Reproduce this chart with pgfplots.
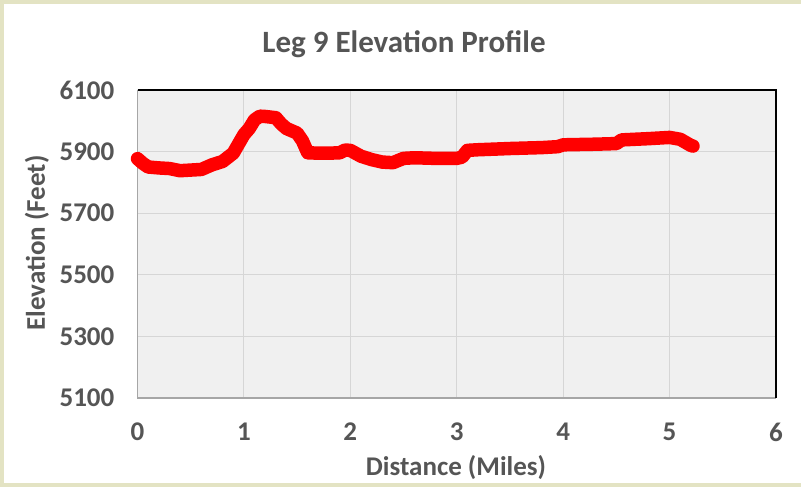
\documentclass[border=0pt]{standalone}
\usepackage{pgfplots}
\pgfplotsset{compat=1.18}
\usepackage{fontspec}
\setmainfont{Carlito}
\definecolor{beige}{HTML}{E3E3C3}
\definecolor{txtgray}{HTML}{555555}
\definecolor{plotbg}{HTML}{F0F0F0}
\definecolor{gridc}{HTML}{D6D6D6}
\begin{document}
\begin{tikzpicture}[x=1pt,y=1pt]
\fill[beige] (0,0) rectangle (801,487);
\fill[white] (4,4) rectangle (801,483);
\begin{axis}[
  at={(137.5pt,89pt)}, anchor=south west,
  scale only axis, width=638.5pt, height=308pt,
  xmin=0, xmax=6, ymin=5100, ymax=6100,
  xtick={0,1,2,3,4,5,6}, ytick={5100,5300,5500,5700,5900,6100},
  grid=major, major grid style={gridc, line width=1pt},
  axis background/.style={fill=plotbg},
  axis line style={draw=none},
  major tick length=0pt,
  /pgf/number format/assume math mode=true,
  /pgf/number format/1000 sep={},
  ticklabel style={font=\fontsize{27}{32}\selectfont\bfseries, text=txtgray, inner sep=0pt},
  yticklabel style={xshift=-23pt},
  xticklabel style={yshift=-25pt},
  clip=false,
]
\draw[gray!70, line width=1.2pt] (rel axis cs:0,1) -- (rel axis cs:0,0) -- (rel axis cs:1,0);
\draw[black, line width=1.5pt] (rel axis cs:0,1) -- (rel axis cs:1,1) -- (rel axis cs:1,0);
\addplot[red, line width=13.5pt, line cap=round, line join=round] coordinates {
(0,5877) (0.05,5862) (0.1,5850) (0.2,5847) (0.3,5845) (0.4,5838) (0.5,5840)
(0.6,5842) (0.7,5857) (0.8,5868) (0.9,5895) (1.0,5955) (1.05,5975) (1.1,6003)
(1.15,6015) (1.2,6014) (1.3,6010) (1.35,5990) (1.4,5975) (1.5,5960) (1.55,5935)
(1.6,5896) (1.7,5895) (1.8,5895) (1.9,5896) (1.95,5905) (2.0,5904) (2.1,5885)
(2.2,5874) (2.3,5866) (2.4,5864) (2.5,5878) (2.6,5880) (2.8,5878) (3.0,5878)
(3.05,5882) (3.1,5904) (3.2,5906) (3.5,5910) (3.8,5913) (3.95,5916) (4.0,5922)
(4.3,5924) (4.5,5926) (4.55,5938) (4.8,5942) (5.0,5946) (5.1,5940) (5.2,5920) (5.22,5918)
};
\end{axis}
\node[text=txtgray, font=\fontsize{31}{36}\selectfont\bfseries] at (404,443) {Leg 9 Elevation Profile};
\node[text=txtgray, font=\fontsize{27}{32}\selectfont\bfseries] at (456,19) {Distance (Miles)};
\node[text=txtgray, font=\fontsize{27}{32}\selectfont\bfseries, rotate=90] at (37,244) {Elevation (Feet)};
\end{tikzpicture}
\end{document}
